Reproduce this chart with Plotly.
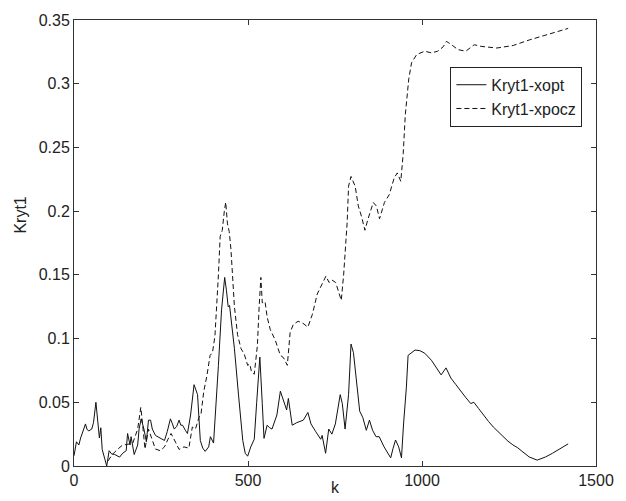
import plotly.graph_objects as go

# --- Kryt1-xopt (solid) ---
k_opt = [0, 7, 14, 19, 28, 33, 37, 42, 51, 56,
         63, 67, 73, 77, 81, 89, 94, 101, 108, 117,
         131, 140, 150, 154, 161, 164, 173, 183, 187, 193,
         201, 208, 214, 220, 225, 234, 246, 253, 260, 268,
         277, 283, 288, 295, 302, 307, 312, 320, 326, 335,
         345, 355, 363, 370, 377, 387, 392, 401, 408, 415,
         424, 433, 438, 443, 447, 454, 461, 473, 485, 492,
         499, 508, 518, 525, 534, 541, 546, 555, 562, 569,
         576, 583, 593, 602, 611, 616, 627, 640, 650, 659,
         672, 681, 695, 709, 713, 723, 732, 741, 751, 758,
         765, 771, 779, 789, 796, 803, 812, 821, 830, 840,
         849, 858, 868, 877, 891, 910, 917, 924, 933, 941,
         947, 955, 960, 966, 980, 994, 1008, 1027, 1041, 1055,
         1069, 1083, 1097, 1111, 1125, 1140, 1149, 1163, 1177, 1191,
         1205, 1219, 1233, 1247, 1261, 1275, 1290, 1308, 1331, 1355,
         1375, 1392, 1420]
kryt_opt = [0.008, 0.019, 0.0165, 0.022, 0.029, 0.033, 0.029, 0.0275, 0.029, 0.034,
            0.050, 0.036, 0.022, 0.030, 0.013, 0.005, 0.0, 0.012, 0.0095, 0.009,
            0.007, 0.010, 0.012, 0.0255, 0.0165, 0.023, 0.009, 0.0165, 0.029, 0.037,
            0.029, 0.019, 0.036, 0.036, 0.029, 0.024, 0.022, 0.021, 0.020, 0.027,
            0.037, 0.033, 0.029, 0.031, 0.036, 0.032, 0.032, 0.028, 0.0255, 0.040,
            0.0638, 0.056, 0.020, 0.014, 0.0115, 0.015, 0.023, 0.018, 0.045, 0.079,
            0.1225, 0.148, 0.138, 0.125, 0.126, 0.110, 0.092, 0.055, 0.020, 0.010,
            0.0077, 0.015, 0.021, 0.050, 0.0855, 0.049, 0.0217, 0.032, 0.030, 0.029,
            0.034, 0.040, 0.0587, 0.052, 0.044, 0.053, 0.032, 0.034, 0.035, 0.036,
            0.042, 0.033, 0.0268, 0.021, 0.024, 0.010, 0.029, 0.025, 0.033, 0.045,
            0.056, 0.049, 0.029, 0.056, 0.0957, 0.089, 0.066, 0.043, 0.038, 0.028,
            0.036, 0.028, 0.023, 0.023, 0.015, 0.0064, 0.014, 0.0204, 0.015, 0.0064,
            0.033, 0.0613, 0.0868, 0.088, 0.091, 0.0905, 0.0885, 0.083, 0.077, 0.0715,
            0.077, 0.069, 0.064, 0.0587, 0.054, 0.049, 0.050, 0.045, 0.0396, 0.035,
            0.0306, 0.0268, 0.023, 0.0195, 0.0166, 0.0143, 0.011, 0.0071, 0.0046, 0.0071,
            0.010, 0.0128, 0.0174]

# --- Kryt1-xpocz (dashed) ---
k_pocz = [98, 110, 126, 140, 154, 169, 183, 192, 197, 204,
          214, 225, 234, 248, 260, 270, 279, 293, 302, 316,
          330, 340, 349, 359, 365, 373, 382, 391, 398, 405,
          410, 415, 420, 426, 432, 436, 441, 446, 451, 455,
          461, 470, 480, 489, 499, 505, 510, 518, 527, 532,
          537, 541, 549, 555, 564, 578, 593, 602, 613, 621,
          630, 644, 658, 672, 685, 699, 709, 724, 733, 741,
          752, 761, 768, 775, 785, 789, 796, 808, 817, 826,
          836, 845, 860, 869, 878, 892, 906, 920, 929, 939,
          946, 952, 962, 970, 985, 1008, 1027, 1045, 1061, 1070,
          1083, 1103, 1126, 1150, 1170, 1215, 1262, 1309, 1356, 1402,
          1420]
kryt_pocz = [0.004, 0.009, 0.0133, 0.0165, 0.017, 0.018, 0.029, 0.046, 0.033, 0.0133,
             0.029, 0.021, 0.0133, 0.012, 0.015, 0.021, 0.0255, 0.018, 0.013, 0.015,
             0.014, 0.0306, 0.029, 0.038, 0.041, 0.0587, 0.071, 0.0868, 0.089, 0.102,
             0.1225, 0.15, 0.18, 0.185, 0.20, 0.207, 0.19, 0.184, 0.17, 0.15,
             0.125, 0.103, 0.092, 0.088, 0.079, 0.080, 0.074, 0.072, 0.0945, 0.125,
             0.148, 0.128, 0.129, 0.117, 0.107, 0.099, 0.0868, 0.085, 0.079, 0.1047,
             0.111, 0.1136, 0.112, 0.109, 0.119, 0.135, 0.1408, 0.149, 0.144, 0.146,
             0.144, 0.136, 0.130, 0.1506, 0.1915, 0.2196, 0.2272, 0.2195, 0.204, 0.196,
             0.185, 0.194, 0.2068, 0.204, 0.194, 0.2068, 0.213, 0.226, 0.230, 0.2234,
             0.245, 0.2757, 0.3038, 0.3165, 0.323, 0.3255, 0.3242, 0.3255, 0.329, 0.3332,
             0.331, 0.3268, 0.3255, 0.3306, 0.3293, 0.328, 0.330, 0.3344, 0.3383, 0.342,
             0.3434]

x_ticks = [0, 500, 1000, 1500]
y_ticks = [0, 0.05, 0.1, 0.15, 0.2, 0.25, 0.3, 0.35]
y_tick_text = ["0", "0.05", "0.1", "0.15", "0.2", "0.25", "0.3", "0.35"]

FONT = "Liberation Sans, Arial, sans-serif"

fig = go.Figure()
fig.add_trace(go.Scatter(x=k_opt, y=kryt_opt, mode="lines", name="Kryt1-xopt",
                         line=dict(color="#111111", width=1)))
fig.add_trace(go.Scatter(x=k_pocz, y=kryt_pocz, mode="lines", name="Kryt1-xpocz",
                         line=dict(color="#111111", width=1, dash="5px,3px")))

axis_common = dict(showline=True, linecolor="#333333", linewidth=1, mirror="ticks",
                   ticks="inside", ticklen=5, tickcolor="#333333",
                   showgrid=False, zeroline=False,
                   tickfont=dict(family=FONT, size=16, color="#222222"))

fig.update_xaxes(range=[0, 1500], tickvals=x_ticks, ticktext=[str(v) for v in x_ticks],
                 **axis_common)
fig.update_yaxes(range=[0, 0.35], tickvals=y_ticks, ticktext=y_tick_text, **axis_common)

fig.update_layout(
    width=626, height=501,
    margin=dict(l=74, r=18, t=13, b=31),
    paper_bgcolor="white", plot_bgcolor="white",
    font=dict(family=FONT, size=16, color="#222222"),
    showlegend=True,
    legend=dict(x=0.721, y=0.895, xanchor="left", yanchor="top",
                bgcolor="white", bordercolor="#222222", borderwidth=1,
                font=dict(family=FONT, size=16, color="#222222"),
                tracegroupgap=0, itemwidth=30),
    annotations=[
        dict(text="k", xref="paper", yref="paper", x=0.5, y=-0.025,
             xanchor="center", yanchor="top", showarrow=False,
             font=dict(family=FONT, size=16, color="#222222")),
        dict(text="Kryt1", xref="paper", yref="paper", x=-0.103, y=0.562,
             xanchor="center", yanchor="middle", showarrow=False, textangle=-90,
             font=dict(family=FONT, size=16, color="#222222")),
    ],
)

fig.write_html("out.html")
